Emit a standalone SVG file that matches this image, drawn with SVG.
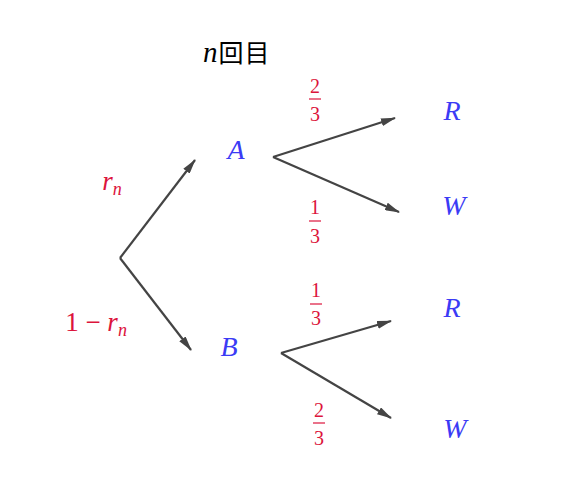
<svg xmlns="http://www.w3.org/2000/svg" width="567" height="503" viewBox="0 0 567 503">
<defs>
<marker id="ah" viewBox="0 0 15 8" refX="14" refY="4" markerWidth="15" markerHeight="8" markerUnits="userSpaceOnUse" orient="auto">
<path d="M0,0 L15,4 L0,8 Z" fill="#444"/>
</marker>
<style>
.e{stroke:#444;stroke-width:2.2;fill:none;marker-end:url(#ah)}
.v{font-family:"Liberation Serif",serif;font-style:italic;fill:#3b3bf5;font-size:28px;text-anchor:middle}
.p{font-family:"Liberation Serif",serif;fill:#dc143c;font-size:20px;text-anchor:middle}
.pi{font-family:"Liberation Serif",serif;font-style:italic;fill:#dc143c;text-anchor:middle}
.bar{stroke:#dc143c;stroke-width:1.2}
.t{font-family:"Liberation Serif","Noto Sans CJK JP",serif;font-size:25px;fill:#000}
</style>
</defs>
<rect width="567" height="503" fill="#fff"/>
<g id="title"><text class="t" x="203" y="62"><tspan font-style="italic" font-size="29px">n</tspan><tspan dx="1">回</tspan><tspan dx="1">目</tspan></text></g>
<g id="connectors">
<path class="e" d="M120,258 L195,160"/>
<path class="e" d="M120,258 L191,350"/>
<path class="e" d="M273,157 L395,118"/>
<path class="e" d="M273,157 L399,212"/>
<path class="e" d="M281,353 L391,321"/>
<path class="e" d="M281,353 L391,418"/>
</g>
<g id="A"><text class="v" x="236" y="159">A</text></g>
<g id="B"><text class="v" x="229" y="356">B</text></g>
<g id="R1"><text class="v" x="452" y="120">R</text></g>
<g id="W1"><text class="v" x="454" y="215">W</text></g>
<g id="R2"><text class="v" x="452" y="317">R</text></g>
<g id="W2"><text class="v" x="455" y="438">W</text></g>
<g id="lab-rn"><text class="pi" x="112" y="190" font-size="27px">r<tspan font-size="18px" dy="5">n</tspan></text></g>
<g id="lab-1rn"><text class="pi" x="96" y="331" font-size="27px"><tspan font-style="normal">1 − </tspan>r<tspan font-size="18px" dy="5">n</tspan></text></g>
<g id="f1"><text class="p" x="315" y="93">2</text><line class="bar" x1="309" y1="99" x2="321" y2="99"/><text class="p" x="315" y="121">3</text></g>
<g id="f2"><text class="p" x="315" y="214">1</text><line class="bar" x1="309" y1="221" x2="321" y2="221"/><text class="p" x="315" y="243">3</text></g>
<g id="f3"><text class="p" x="316" y="297">1</text><line class="bar" x1="310" y1="304" x2="322" y2="304"/><text class="p" x="316" y="325">3</text></g>
<g id="f4"><text class="p" x="319" y="417">2</text><line class="bar" x1="313" y1="423" x2="325" y2="423"/><text class="p" x="319" y="445">3</text></g>
</svg>
